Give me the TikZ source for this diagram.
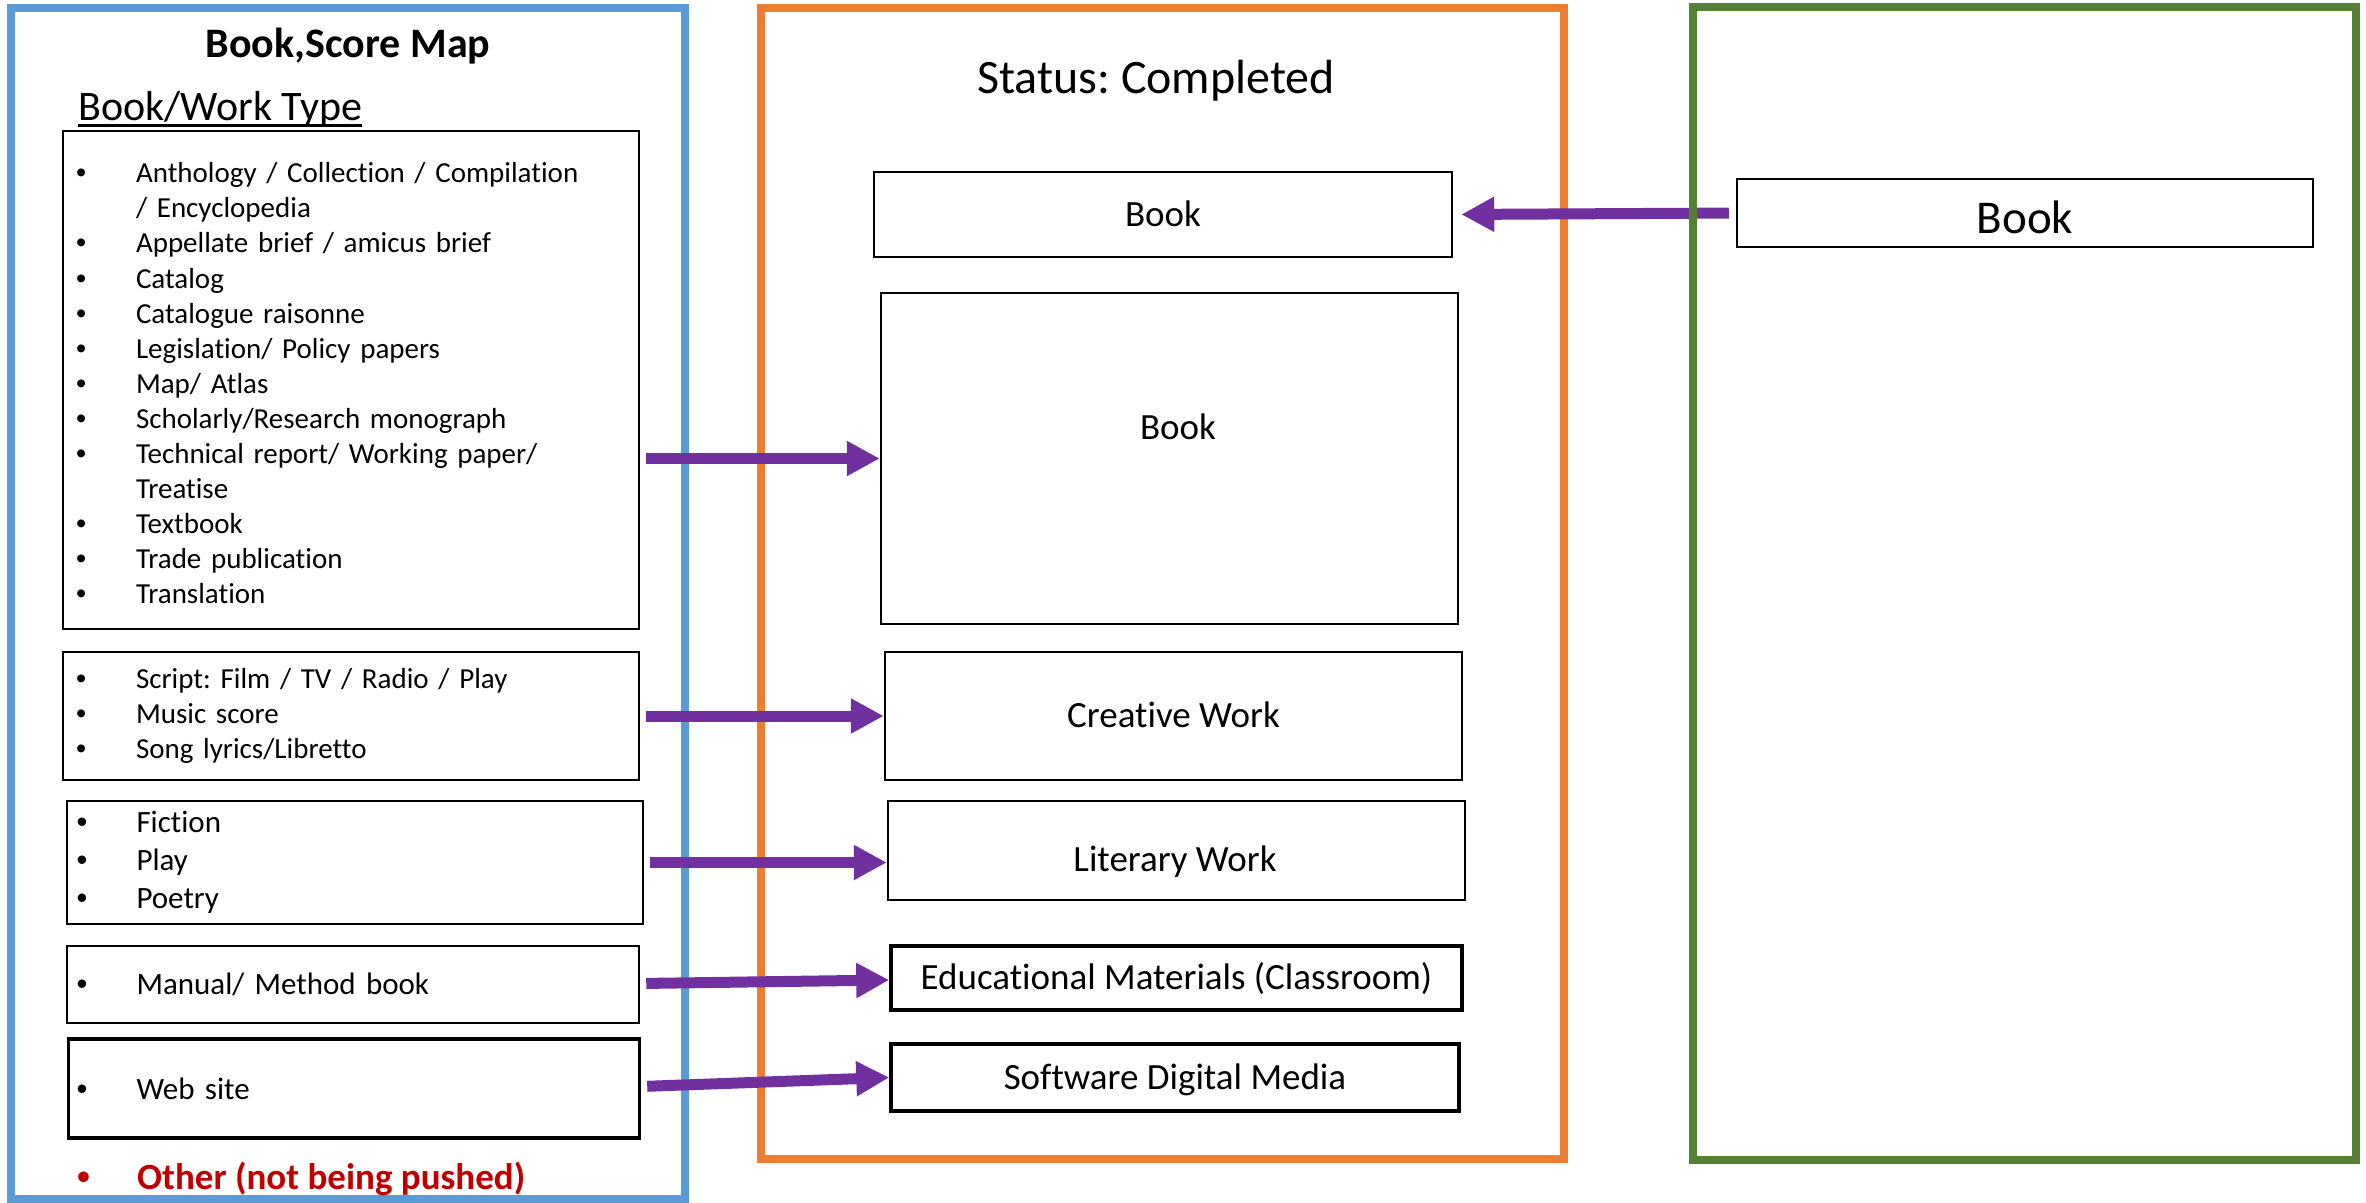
\documentclass[tikz,border=0pt]{standalone}
\usepackage{fontspec}
\setmainfont{Carlito}[Ligatures=NoCommon]
\newfontfamily\bulfont{Liberation Sans}
\usepackage{tikz}
\usetikzlibrary{arrows.meta}
\definecolor{mapblue}{HTML}{5B9BD5}
\definecolor{statorange}{HTML}{ED7D31}
\definecolor{srcgreen}{HTML}{548235}
\definecolor{flowpurple}{HTML}{7030A0}
\definecolor{otherred}{HTML}{C00000}
\newcommand{\bul}{\makebox[60pt][l]{{\bulfont\textbullet}}}
\newcommand{\fsz}[2]{\fontsize{#1}{#2}\selectfont}
\frenchspacing

\begin{document}
\begin{tikzpicture}[
    x=1pt, y=-1pt,
    frame/.style={draw, line width=8pt, inner sep=0pt},
    listbox/.style={draw, line width=2.5pt, inner ysep=0pt, align=left},
    typebox/.style={draw, line width=2.5pt, inner sep=0pt, text height=23.5pt, text depth=0pt, font=\fsz{37}{44}},
    flow/.style={-{Triangle[length=33pt,width=33pt]}, line width=11pt, draw=flowpurple}
]
\useasboundingbox (0,0) rectangle (2366,1202);

\node[frame, draw=mapblue, minimum width=674pt, minimum height=1191pt] (mapframe) at (348,603.5) {};
\node[frame, draw=statorange, minimum width=803pt, minimum height=1151pt] (statframe) at (1162.5,583.5) {};

\node[listbox, inner xsep=13pt, text width=550pt, minimum height=498pt, font=\fsz{29}{35.1}] (ls1) at (351,380) {
\bul\rule{0pt}{27pt}Anthology / Collection / Compilation\\
\hspace*{60pt}/ Encyclopedia\\
\bul Appellate brief / amicus brief\\
\bul Catalog\\
\bul Catalogue raisonne\\
\bul Legislation/ Policy papers\\
\bul Map/ Atlas\\
\bul Scholarly/Research monograph\\
\bul Technical report/ Working paper/\\
\hspace*{60pt}Treatise\\
\bul Textbook\\
\bul Trade publication\\
\bul Translation};
\node[listbox, inner xsep=13pt, text width=550pt, minimum height=128pt, font=\fsz{29}{35.1}] (ls2) at (351,716) {
\bul Script: Film / TV / Radio / Play\\
\bul Music score\\
\bul Song lyrics/Libretto};
\node[listbox, inner xsep=9.5pt, text width=557pt, minimum height=123pt, font=\fsz{31}{38}] (ls3) at (355,862.5) {
\bul Fiction\\
\bul Play\\
\bul Poetry};
\node[listbox, inner xsep=9.5pt, text width=553pt, minimum height=77pt, font=\fsz{31}{38}] (ls4) at (353,984.5) {\bul Manual/ Method book};
\node[listbox, line width=3.5pt, inner xsep=8pt, text width=555pt, minimum height=99pt, font=\fsz{31}{38}] (ls5) at (354,1088.5) {\bul Web site};

\node[anchor=base, font=\bfseries\fsz{42}{50}] (maptitle) at (348,57) {Book,Score Map};
\node[anchor=base west, inner sep=0pt, font=\fsz{42}{50}] (worktype) at (78,120) {Book/Work Type};
\draw[line width=3pt] ([yshift=-5pt]worktype.base west) -- ([yshift=-5pt]worktype.base east);
\node[anchor=base west, inner sep=0pt, text=otherred, font=\bfseries\fsz{37}{44}] (other) at (77,1189) {\bul Other (not being pushed)};

\node[anchor=base, font=\fsz{48}{58}] (status) at (1156,93) {Status: Completed};
\node[typebox, minimum width=578pt, minimum height=85pt] (bk1) at (1163,214.5) {Book};
\node[typebox, minimum width=577pt, minimum height=331pt] (bk2) at (1169.5,458.5) {};
\node[anchor=base, font=\fsz{37}{44}] (bk2label) at (1178,439) {Book};
\node[typebox, minimum width=577pt, minimum height=128pt] (cw) at (1173.5,716) {Creative Work};
\node[typebox, minimum width=577pt, minimum height=99pt] (lw) at (1176.5,850.5) {};
\node[anchor=base, font=\fsz{37}{44}] (lwlabel) at (1175,871) {Literary Work};
\node[typebox, line width=3.5pt, minimum width=571pt, minimum height=64pt] (ed) at (1176.5,978) {Educational Materials (Classroom)};
\node[typebox, line width=3.5pt, minimum width=568pt, minimum height=67pt] (sw) at (1175,1077.5) {Software Digital Media};

\node[typebox, minimum width=576pt, minimum height=68pt, text height=41pt, font=\fsz{47}{56}] (gb) at (2025,213) {Book};

\draw[flow, shorten <=6pt] (ls1.east |- bk2.west) -- (bk2.west);
\draw[flow, shorten <=6pt] (ls2.east) -- (cw.west);
\draw[flow, shorten <=6pt] (ls3.east) -- (ls3.east -| lw.west);
\draw[flow, shorten <=6pt] ([yshift=1pt]ls4.east) -- ([yshift=-2pt]ed.west);
\draw[flow, shorten <=6pt] ([yshift=2pt]ls5.east) -- (sw.west);
\draw[flow, shorten <=7pt, shorten >=8pt] (gb.west) -- (bk1.east);

\node[frame, draw=srcgreen, minimum width=663pt, minimum height=1153pt] (srcframe) at (2024.5,583.5) {};
\end{tikzpicture}
\end{document}
